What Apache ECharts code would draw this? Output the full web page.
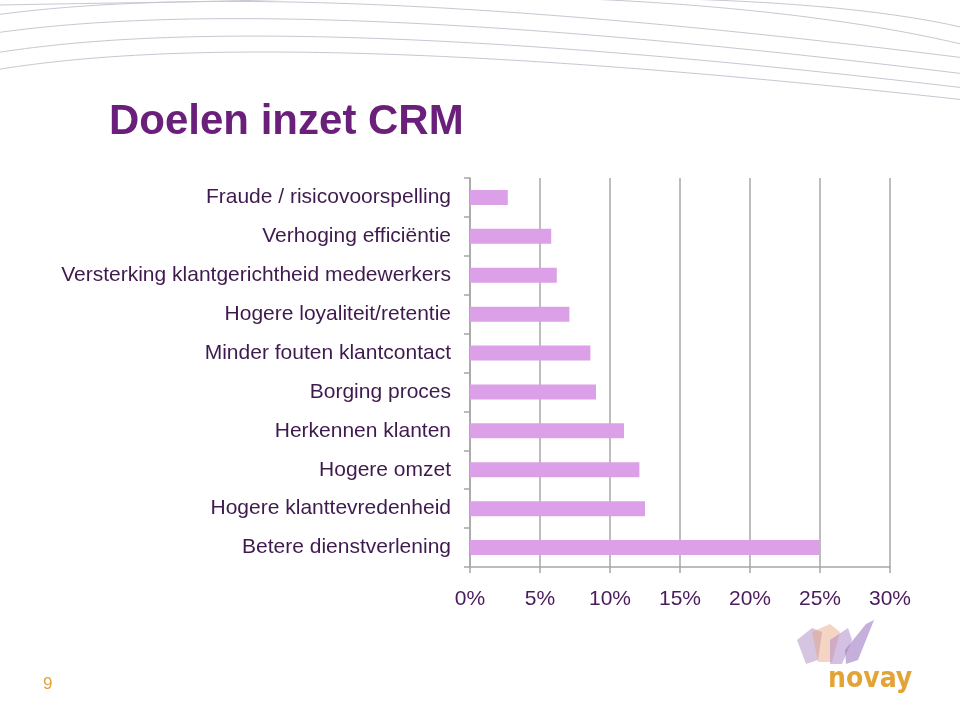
<!DOCTYPE html>
<html>
<head>
<meta charset="utf-8">
<script src="https://cdn.jsdelivr.net/npm/echarts@6/dist/echarts.min.js"></script>
<style>
html,body{margin:0;padding:0;background:#fff;}
#chart{width:960px;height:707px;}
</style>
</head>
<body>
<div id="chart"></div>
<script>
var categories = [
  "Fraude / risicovoorspelling",
  "Verhoging efficiëntie",
  "Versterking klantgerichtheid medewerkers",
  "Hogere loyaliteit/retentie",
  "Minder fouten klantcontact",
  "Borging proces",
  "Herkennen klanten",
  "Hogere omzet",
  "Hogere klanttevredenheid",
  "Betere dienstverlening"
];
var values = [2.7, 5.8, 6.2, 7.1, 8.6, 9.0, 11.0, 12.1, 12.5, 25.0];
var xTicks = [0, 5, 10, 15, 20, 25, 30];
var title = "Doelen inzet CRM";

var chart = echarts.init(document.getElementById('chart'), null, {renderer: 'canvas'});

var waveColor = '#c9c6d2';
function wave(y0, yMid, yEnd) {
  return {
    type: 'bezierCurve', silent: true,
    shape: {x1: -5, y1: y0, x2: 965, y2: yEnd, cpx1: 150, cpy1: yMid - 14, cpx2: 420, cpy2: yMid - 18},
    style: {stroke: waveColor, lineWidth: 1, fill: null}
  };
}

var option = {
  animation: false,
  backgroundColor: '#ffffff',
  title: {
    text: title,
    left: 104, top: 96,
    textStyle: {fontFamily: 'Liberation Sans, Arial, sans-serif', fontSize: 42, fontWeight: 'bold', color: '#6a1f7a'}
  },
  grid: {left: 470, right: 70, top: 178, bottom: 140, containLabel: false},
  xAxis: {
    type: 'value', min: 0, max: 30, interval: 5,
    axisLine: {show: true, lineStyle: {color: '#a7a7a7', width: 1.5}},
    axisTick: {show: true, length: 6, lineStyle: {color: '#a7a7a7', width: 1.5}},
    splitLine: {show: true, lineStyle: {color: '#a7a7a7', width: 1.5}},
    axisLabel: {
      margin: 22, fontSize: 21, color: '#4a1a5c', fontFamily: 'Liberation Sans, Arial, sans-serif',
      formatter: function (v) { return v + '%'; }
    }
  },
  yAxis: {
    type: 'category', data: categories, inverse: true,
    axisLine: {show: true, lineStyle: {color: '#a7a7a7', width: 1.5}},
    axisTick: {show: true, length: 6, lineStyle: {color: '#a7a7a7', width: 1.5}},
    axisLabel: {margin: 19, fontSize: 21, color: '#3f1a4e', fontFamily: 'Liberation Sans, Arial, sans-serif'}
  },
  series: [{
    type: 'bar', data: values, barWidth: 15,
    itemStyle: {color: '#dba0e8'}
  }],
  graphic: [
    wave(15, 8, 58),
    wave(33, 25, 74),
    wave(53, 42, 88),
    wave(70, 58, 100),
    {type: 'bezierCurve', silent: true, shape: {x1: 330, y1: -2, x2: 965, y2: 45, cpx1: 550, cpy1: -10, cpx2: 800, cpy2: 5}, style: {stroke: waveColor, lineWidth: 1, fill: null}},
    {type: 'bezierCurve', silent: true, shape: {x1: 640, y1: -2, x2: 965, y2: 28, cpx1: 760, cpy1: 0, cpx2: 880, cpy2: 8}, style: {stroke: waveColor, lineWidth: 1, fill: null}},
    {type: 'bezierCurve', silent: true, shape: {x1: 0, y1: 5, x2: 330, y2: -2, cpx1: 100, cpy1: 3, cpx2: 220, cpy2: 2}, style: {stroke: waveColor, lineWidth: 1, fill: null}},
    // page number
    {type: 'text', left: 43, top: 676, style: {text: '9', fontSize: 17, fill: '#e0a23a', fontFamily: 'Liberation Sans, Arial, sans-serif'}},
    // logo swoosh
    {type: 'polygon', silent: true, shape: {points: [[797, 640], [812, 628], [822, 632], [818, 660], [806, 664]]}, style: {fill: 'rgba(180,150,200,0.55)'}},
    {type: 'polygon', silent: true, shape: {points: [[812, 632], [830, 624], [840, 632], [832, 662], [818, 662]]}, style: {fill: 'rgba(230,160,120,0.45)'}},
    {type: 'polygon', silent: true, shape: {points: [[830, 640], [848, 628], [852, 640], [842, 664], [830, 664]]}, style: {fill: 'rgba(170,130,200,0.5)'}},
    {type: 'polygon', silent: true, shape: {points: [[845, 650], [866, 624], [874, 620], [858, 660], [846, 664]]}, style: {fill: 'rgba(150,110,190,0.55)'}},
    {type: 'text', left: 828, top: 666, style: {text: 'novay', fontSize: 28, fontWeight: 'bold', fill: '#e3a336', fontFamily: 'DejaVu Sans Condensed, DejaVu Sans, sans-serif'}}
  ]
};
chart.setOption(option);
</script>
</body>
</html>
